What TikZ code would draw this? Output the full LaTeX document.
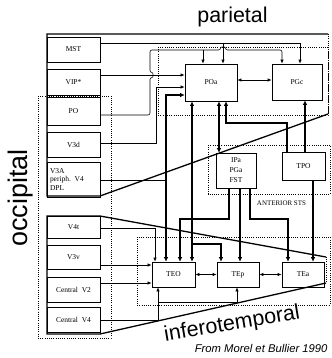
\documentclass[tikz,border=0pt]{standalone}
\usepackage{fontspec}
\setmainfont{Liberation Serif}
\newfontfamily\labfont{Liberation Sans}
\usetikzlibrary{arrows.meta}
\begin{document}
\begin{tikzpicture}[x=1bp,y=-1bp,
  box/.style={draw, line width=0.6bp, rectangle, inner sep=0pt, font=\fontsize{7.5}{8.5}\selectfont, align=center},
  thn/.style={line width=0.6bp},
  thk/.style={line width=2.4bp},
  tip/.style={-{Latex[length=4bp,width=3.2bp]}},
  bitip/.style={{Latex[length=4bp,width=3.2bp]}-{Latex[length=4bp,width=3.2bp]}},
  ttip/.style={-{Latex[length=4.5bp,width=4.5bp]}},
  tbitip/.style={{Latex[length=4.5bp,width=4.5bp]}-{Latex[length=4.5bp,width=4.5bp]}},
  poly/.style={line width=1.3bp, line join=miter},
  dots/.style={line width=0.6bp, dash pattern=on 0.8bp off 1.4bp},
  big/.style={font=\labfont\fontsize{21.5}{24}\selectfont},
]
\useasboundingbox (0,0) rectangle (332,358);

% region outlines
\draw[poly] (328,114) -- (100,196) -- (47,196) -- (47,34) -- (328,34);
\draw[dots] (328,34) -- (328,114);
\draw[poly] (326,257) -- (100,216) -- (47,216) -- (47,334) -- (100,334) -- (326,283);
\draw[dots] (326,257) -- (326,283);
\draw[dots] (38,96) rectangle (111,338);
\draw[dots] (158,47) rectangle (328,115);
\draw[dots] (208,145) rectangle (330,194);
\draw[dots] (137,237) rectangle (330,305);

% left boxes
\node[box, minimum width=53bp, minimum height=25bp] (MST) at (73.5,49.5) {MST};
\node[box, minimum width=53bp, minimum height=26bp] (VIP) at (73.5,82) {VIP*};
\node[box, minimum width=53bp, minimum height=28bp] (PO) at (73.5,111) {PO};
\node[box, minimum width=53bp, minimum height=25bp] (V3d) at (73.5,144.5) {V3d};
\node[box, minimum height=35bp, text width=47bp, inner xsep=3bp, align=left] (V3A) at (73.5,179.5) {V3A\\periph. V4\\DPL};
\node[box, minimum width=53bp, minimum height=22bp] (V4t) at (73.5,227) {V4t};
\node[box, minimum width=53bp, minimum height=24bp] (V3v) at (73.5,257) {V3v};
\node[box, minimum width=53bp, minimum height=25bp] (CV2) at (73.5,289.5) {Central\ \ V2};
\node[box, minimum width=53bp, minimum height=25bp] (CV4) at (73.5,319.5) {Central\ \ V4};

% right boxes
\node[box, minimum width=52bp, minimum height=37bp] (POa) at (211,82.5) {POa};
\node[box, minimum width=50bp, minimum height=36bp] (PGc) at (297,82) {PGc};
\node[box, minimum width=40bp, minimum height=35bp, font=\fontsize{7.5}{10}\selectfont] (IPa) at (236,170.5) {IPa\\PGa\\FST};
\node[box, minimum width=43bp, minimum height=28bp] (TPO) at (303.5,166) {TPO};
\node[box, minimum width=43bp, minimum height=25bp] (TEO) at (173.5,274.5) {TEO};
\node[box, minimum width=42bp, minimum height=25bp] (TEp) at (238,274.5) {TEp};
\node[box, minimum width=42bp, minimum height=25bp] (TEa) at (303,274.5) {TEa};

% thin connections into the parietal boxes
\draw[thn,tip] (MST.east |- 0,43) -- (300,43) -- (PGc.north -| 300,0);
\draw[thn,tip] (223,43) -- (POa.north -| 223,0);
\draw[thn,tip,rounded corners=2bp] (PO.east |- 0,115) -- (150,115) -- (150,77.5)
  .. controls (153.5,77.5) and (153.5,72.5) .. (150,72.5) -- (150,50) -- (220.5,50)
  .. controls (220.5,46.5) and (225.5,46.5) .. (225.5,50) -- (282,50) -- (PGc.north -| 282,0);
\draw[thn,tip] (203,50) -- (POa.north -| 203,0);
\draw[thn,tip] (VIP.east |- 0,75) -- (POa.west |- 0,75);
\draw[thn,tip] (V3d.east |- 0,143) -- (156,143) -- (156,87) -- (POa.west |- 0,87);
\draw[thn] (V3A.east |- 0,180) -- (165,180);
\draw[thn,bitip] (POa.east |- 0,80) -- (PGc.west |- 0,80);

% thick connections
\draw[thk,tbitip] (TEO.north -| 166,0) -- (166,95) -- (POa.west |- 0,95);
\draw[thk,tbitip] (POa.south -| 192,0) -- (TEO.north -| 192,0);
\draw[thk,ttip] (192,244) -- (221,244) -- (TEp.north -| 221,0);
\draw[thk,tbitip] (IPa.north -| 219,0) -- (POa.south -| 219,0);
\draw[thk,ttip] (TPO.north -| 287,0) -- (287,123) -- (226,123) -- (POa.south -| 226,0);
\draw[thk,ttip] (TPO.north -| 305,0) -- (PGc.south -| 305,0);
\draw[thk,ttip] (TPO.south -| 313,0) -- (TEa.north -| 313,0);
\draw[thk,ttip] (IPa.south -| 229,0) -- (229,219) -- (180,219) -- (TEO.north -| 180,0);
\draw[thk,ttip] (IPa.south -| 240,0) -- (TEp.north -| 240,0);
\draw[thk,ttip] (IPa.south -| 250,0) -- (250,219) -- (288,219) -- (TEa.north -| 288,0);

% thin connections into inferotemporal boxes
\draw[thn,tip] (V4t.east |- 0,228) -- (155,228) -- (TEO.north -| 155,0);
\draw[thn,tip] (V3v.east |- 0,265) -- (TEO.west |- 0,265);
\draw[thn,tip] (CV2.east |- 0,283) -- (TEO.west |- 0,283);
\draw[thn,tip] (CV4.east |- 0,320) -- (158,320) -- (TEO.south -| 158,0);
\draw[thn,tip] (158,302) -- (237,302) -- (TEp.south -| 237,0);
\draw[thn,bitip] (TEO) -- (TEp);
\draw[thn,bitip] (TEp) -- (TEa);

% labels
\node[font=\fontsize{7}{8}\selectfont] (sts) at (281.5,203) {ANTERIOR STS};
\node[big, anchor=base] (par) at (232.5,22) {parietal};
\node[font=\labfont\fontsize{27}{28}\selectfont, rotate=90, anchor=base] (occ) at (27,198) {occipital};
\node[big, rotate=9.5, anchor=base] (inf) at (233,330) {inferotemporal};
\node[font=\labfont\itshape\fontsize{11.3}{12}\selectfont, anchor=base east] (src) at (331,352) {From Morel et Bullier 1990};
\end{tikzpicture}
\end{document}
